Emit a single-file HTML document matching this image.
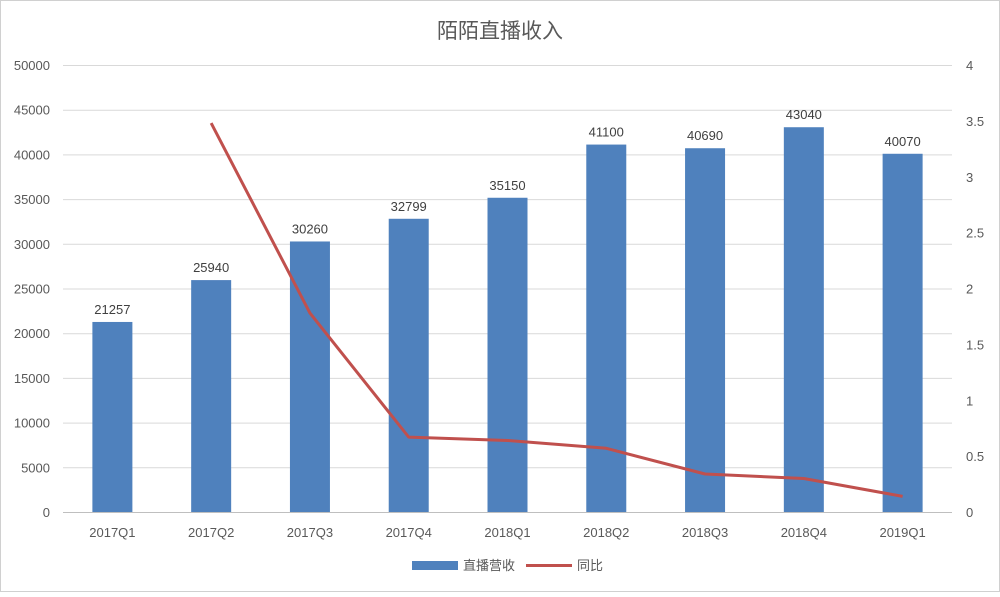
<!DOCTYPE html>
<html><head><meta charset="utf-8">
<style>
html,body{margin:0;padding:0;background:#fff;}
svg text{font-family:"Liberation Sans","Noto Sans CJK SC",sans-serif;}
</style></head>
<body>
<svg id="chart" width="1000" height="592" viewBox="0 0 1000 592" xmlns="http://www.w3.org/2000/svg">
<rect x="0.5" y="0.5" width="999" height="591" fill="#fff" stroke="#d0d0d0"/>
<text x="500" y="38" text-anchor="middle" font-size="21" fill="#595959">陌陌直播收入</text>
<g id="grid"></g><g id="bars"></g><g id="line"></g><g id="axes"></g>
<g>
<rect x="412" y="561" width="46" height="9" fill="#4f81bd"/>
<text x="463" y="570" font-size="13" fill="#595959">直播营收</text>
<line x1="526" y1="565.5" x2="572" y2="565.5" stroke="#c0504d" stroke-width="3"/>
<text x="577" y="570" font-size="13" fill="#595959">同比</text>
</g>
</svg>
<script>
const categories=["2017Q1","2017Q2","2017Q3","2017Q4","2018Q1","2018Q2","2018Q3","2018Q4","2019Q1"];
const revenue=[21257,25940,30260,32799,35150,41100,40690,43040,40070];
const yoy=[null,3.48,1.78,0.67,0.64,0.57,0.34,0.30,0.14];
const leftTicks=[0,5000,10000,15000,20000,25000,30000,35000,40000,45000,50000];
const rightTicks=["0","0.5","1","1.5","2","2.5","3","3.5","4"];
const NS="http://www.w3.org/2000/svg";
const X0=63,X1=952,Y0=512,Y1=65;
const band=(X1-X0)/categories.length;
const xc=i=>X0+band*(i+0.5);
const yl=v=>Y0-(v/50000)*(Y0-Y1);
const yr=v=>Y0-(v/4)*(Y0-Y1);
function mk(tag,attrs,parent,txt){const e=document.createElementNS(NS,tag);for(const k in attrs)e.setAttribute(k,attrs[k]);if(txt!==undefined)e.textContent=txt;document.getElementById(parent).appendChild(e);return e;}
leftTicks.forEach(t=>{
  const g=mk('line',{x1:X0,x2:X1,y1:yl(t)+0.5,y2:yl(t)+0.5,stroke:t===0?'#bfbfbf':'#d9d9d9','stroke-width':1},'grid');
  
  
  const l=mk('text',{x:50,y:yl(t)+5,'text-anchor':'end','font-size':13,fill:'#595959'},'axes',String(t));
  
  
});
rightTicks.forEach(t=>{
  const l=mk('text',{x:966,y:yr(parseFloat(t))+5,'text-anchor':'start','font-size':13,fill:'#595959'},'axes',t);
  
  
});
categories.forEach((c,i)=>{
  const l=mk('text',{x:xc(i),y:537,'text-anchor':'middle','font-size':13,fill:'#595959'},'axes',c);
  
  
  const bw=40,v=revenue[i];
  const b=mk('rect',{x:xc(i)-bw/2,y:yl(v),width:bw,height:Y0-yl(v),fill:'#4f81bd'},'bars');
  
  
  const vl=mk('text',{x:xc(i),y:yl(v)-8,'text-anchor':'middle','font-size':13,fill:'#404040'},'bars',String(v));
  
  
});
let d='';yoy.forEach((v,i)=>{if(v===null)return;d+=(d?'L':'M')+xc(i)+','+yr(v);});
const p=mk('path',{d:d,fill:'none',stroke:'#c0504d','stroke-width':3,'stroke-linejoin':'round'},'line');


</script>
</body></html>
